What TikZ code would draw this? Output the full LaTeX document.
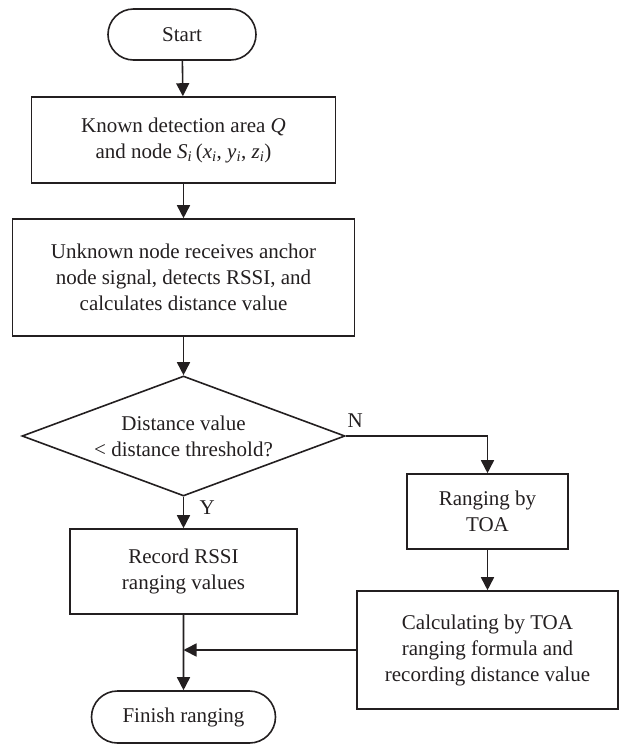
\documentclass[tikz,border=0pt]{standalone}
\usepackage{fontspec}
\setmainfont{Liberation Serif}
\usetikzlibrary{arrows.meta,shapes.geometric,shapes.misc}
\newcommand\isub[1]{\textsubscript{\textit{#1}}}
\definecolor{ink}{HTML}{231F20}
\tikzset{
  x=1pt,y=-1pt,
  every node/.style={font=\fontsize{21}{26}\selectfont, text=ink},
  proc/.style={draw=ink, line width=1.6pt, rectangle, align=center, inner sep=0pt},
  term/.style={draw=ink, line width=1.6pt, rounded rectangle, align=center, inner sep=0pt},
  decision/.style={draw=ink, line width=1.6pt, diamond, align=center, inner sep=0pt},
  flow/.style={draw=ink, line width=1.6pt, -{Triangle[length=13pt,width=13pt]}},
  lbl/.style={font=\fontsize{21}{24}\selectfont}
}
\begin{document}
\begin{tikzpicture}
\useasboundingbox (0,0) rectangle (622,745);
\node[term, minimum width=148pt, minimum height=51pt] (start) at (182,34.5) {Start};
\node[proc, minimum width=304pt, minimum height=86pt] (known) at (183.5,140) {Known detection area \textit{Q}\\and node \textit{S}\isub{i}\,(\textit{x}\isub{i}, \textit{y}\isub{i}, \textit{z}\isub{i})};
\node[proc, minimum width=342pt, minimum height=117pt] (unknown) at (183.5,277.5) {Unknown node receives anchor\\node signal, detects RSSI, and\\calculates distance value};
\node[decision, minimum width=323pt, minimum height=120pt, shape aspect=2.69] (dec) at (183.5,436) {Distance value\\< distance threshold?};
\node[proc, minimum width=161pt, minimum height=75pt] (toa) at (487.5,511.5) {Ranging by\\TOA};
\node[proc, minimum width=261pt, minimum height=118pt] (calc) at (487.5,650) {Calculating by TOA\\ranging formula and\\recording distance value};
\node[proc, minimum width=227pt, minimum height=85pt] (rssi) at (183.5,571.5) {Record RSSI\\ranging values};
\node[term, minimum width=184pt, minimum height=52pt] (finish) at (183.5,717) {Finish ranging};
\draw[flow] (start) -- (known);
\draw[flow] (known) -- (unknown);
\draw[flow] (unknown) -- (dec);
\draw[flow] (dec.south) -- node[lbl, right, pos=0.35, xshift=12pt] (ylab) {Y} (rssi.north);
\draw[flow] (dec.east) -| node[lbl, pos=0.02, above right, xshift=-8pt, yshift=4pt] (nlab) {N} (toa.north);
\draw[flow] (toa) -- (calc);
\draw[flow] (rssi) -- (finish);
\coordinate (merge) at (rssi.south |- calc.west);
\draw[flow] (calc.west) -- (merge);
\end{tikzpicture}
\end{document}
